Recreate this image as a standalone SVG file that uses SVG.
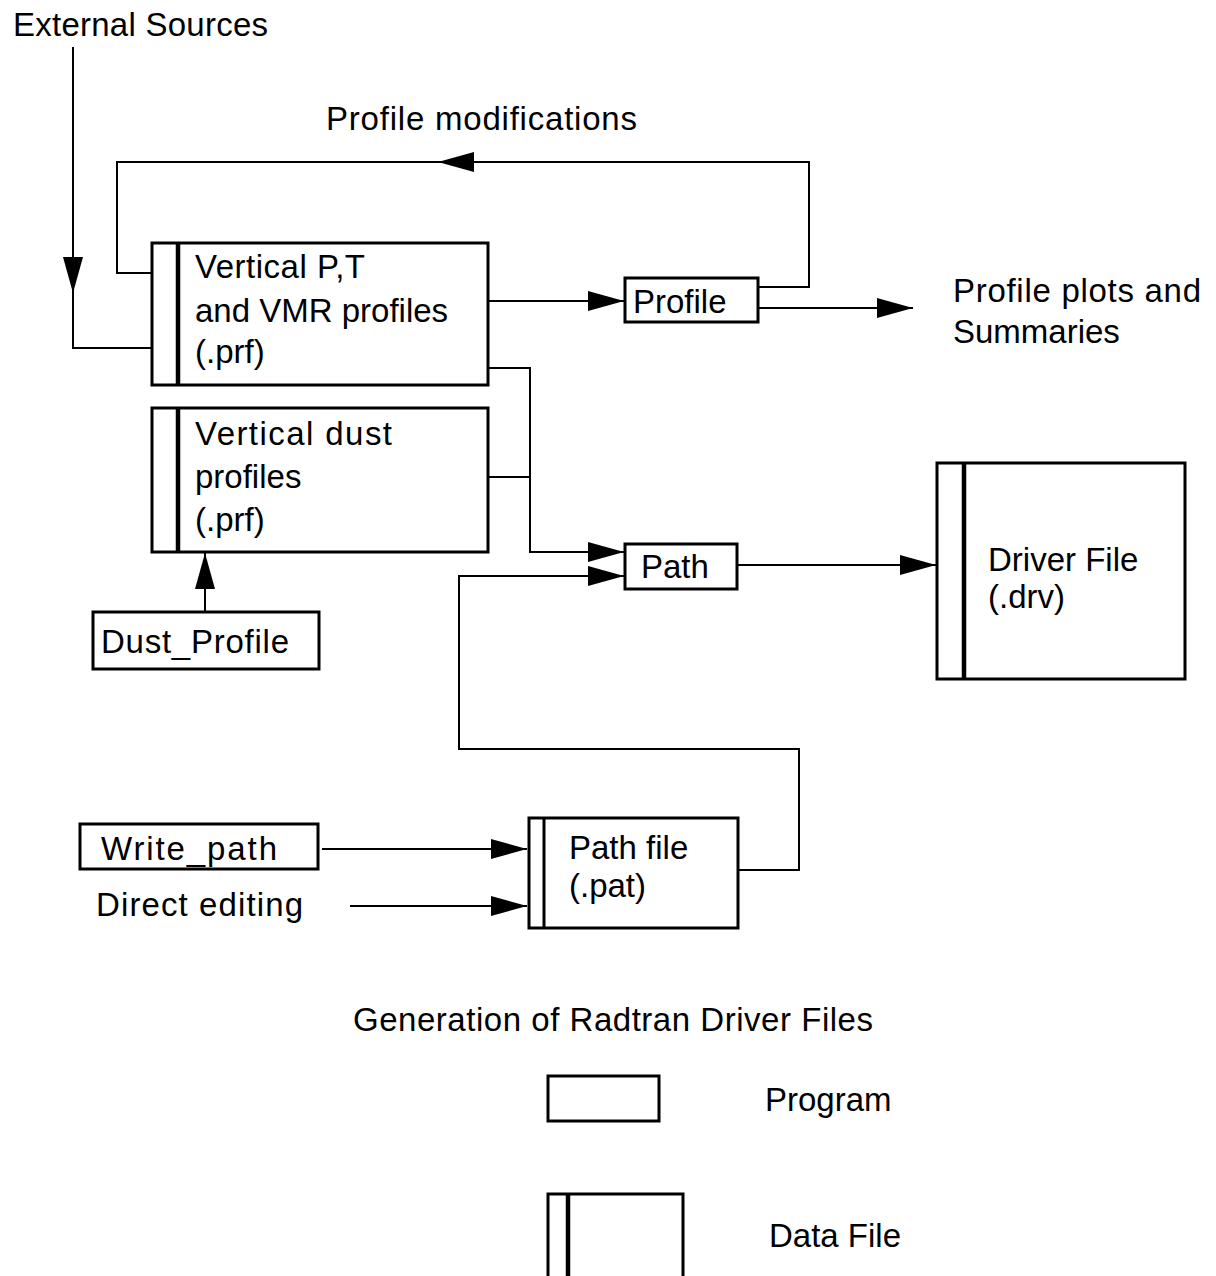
<svg xmlns="http://www.w3.org/2000/svg" width="1216" height="1276" viewBox="0 0 1216 1276">
<style>
.t{font-family:"Liberation Sans",Arial,sans-serif;font-size:33px;fill:#000}
.box{fill:#fff;stroke:#000;stroke-width:3}
.bar{stroke:#000;stroke-width:4.5;fill:none}
.c{fill:none;stroke:#000;stroke-width:2}
.ca{fill:none;stroke:#000;stroke-width:2;marker-end:url(#ah)}
</style>
<defs>
<marker id="ah" markerUnits="userSpaceOnUse" markerWidth="36" markerHeight="20" refX="36" refY="10" orient="auto" overflow="visible">
<path d="M0,0 L36,10 L0,20 Z" fill="#000"/>
</marker>
</defs>
<rect width="1216" height="1276" fill="#fff"/>

<g id="connectors">
<path class="ca" d="M73,47 V293"/>
<path class="c" d="M73,293 V348 H152"/>
<path class="ca" d="M758,287 H809 V162 H438"/>
<path class="c" d="M438,162 H117 V273 H152"/>
<path class="ca" d="M488,301 H624"/>
<path class="ca" d="M758,308 H913"/>
<path class="ca" d="M488,368 H530 V552 H624"/>
<path class="c" d="M488,477 H530"/>
<path class="ca" d="M738,870 H799 V749 H459 V576 H624"/>
<path class="ca" d="M737,565 H936"/>
<path class="ca" d="M205,612 V553"/>
<path class="ca" d="M322,849 H527"/>
<path class="ca" d="M350,906 H527"/>
</g>

<g id="external-sources"><text class="t" x="13" y="36" textLength="255" lengthAdjust="spacing">External Sources</text></g>
<g id="profile-modifications"><text class="t" x="326" y="130" textLength="311" lengthAdjust="spacing">Profile modifications</text></g>

<g id="vertical-pt-profiles">
<rect class="box" x="152" y="243" width="336" height="142"/>
<line class="bar" x1="178" y1="243" x2="178" y2="385"/>
<text class="t" x="195" y="278" textLength="170" lengthAdjust="spacing">Vertical P,T</text>
<text class="t" x="195" y="322">and VMR profiles</text>
<text class="t" x="195" y="363">(.prf)</text>
</g>

<g id="profile">
<rect class="box" x="625" y="278" width="133" height="44"/>
<text class="t" x="633" y="313">Profile</text>
</g>

<g id="profile-plots">
<text class="t" x="953" y="302" textLength="248" lengthAdjust="spacing">Profile plots and</text>
<text class="t" x="953" y="343">Summaries</text>
</g>

<g id="vertical-dust-profiles">
<rect class="box" x="152" y="408" width="336" height="144"/>
<line class="bar" x1="178" y1="408" x2="178" y2="552"/>
<text class="t" x="195" y="445" textLength="197" lengthAdjust="spacing">Vertical dust</text>
<text class="t" x="195" y="488">profiles</text>
<text class="t" x="195" y="531">(.prf)</text>
</g>

<g id="path">
<rect class="box" x="625" y="544" width="112" height="45"/>
<text class="t" x="641" y="578">Path</text>
</g>

<g id="dust-profile">
<rect class="box" x="93" y="612" width="226" height="57"/>
<text class="t" x="101" y="653" textLength="188" lengthAdjust="spacing">Dust_Profile</text>
</g>

<g id="driver-file">
<rect class="box" x="937" y="463" width="248" height="216"/>
<line class="bar" x1="964" y1="463" x2="964" y2="679"/>
<text class="t" x="988" y="571">Driver File</text>
<text class="t" x="988" y="608">(.drv)</text>
</g>

<g id="write-path">
<rect class="box" x="80" y="824" width="238" height="45"/>
<text class="t" x="101" y="860" textLength="176" lengthAdjust="spacing">Write_path</text>
</g>

<g id="direct-editing"><text class="t" x="96" y="916" textLength="207" lengthAdjust="spacing">Direct editing</text></g>

<g id="path-file">
<rect class="box" x="529" y="818" width="209" height="110"/>
<line class="bar" x1="544" y1="818" x2="544" y2="928" style="stroke-width:3"/>
<text class="t" x="569" y="859">Path file</text>
<text class="t" x="569" y="897">(.pat)</text>
</g>

<g id="title"><text class="t" x="353" y="1031" textLength="520" lengthAdjust="spacing">Generation of Radtran Driver Files</text></g>

<g id="legend-program">
<rect class="box" x="548" y="1076" width="111" height="45"/>
<text class="t" x="765" y="1111">Program</text>
</g>

<g id="legend-data-file">
<rect class="box" x="548" y="1194" width="135" height="120"/>
<line class="bar" x1="568" y1="1194" x2="568" y2="1290"/>
<text class="t" x="769" y="1247">Data File</text>
</g>
</svg>
